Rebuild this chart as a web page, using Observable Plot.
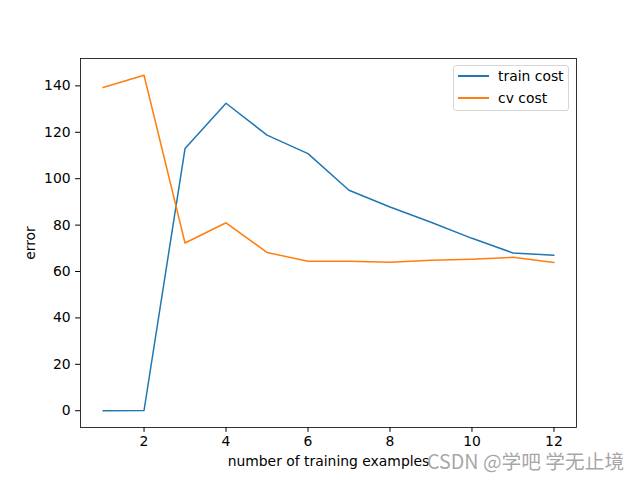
<!DOCTYPE html>
<html><head><meta charset="utf-8">
<script src="https://cdn.jsdelivr.net/npm/d3@7"></script>
<script src="https://cdn.jsdelivr.net/npm/@observablehq/plot@0.6"></script>
<style>
body{margin:0;background:#fff;}
#wrap{position:relative;width:640px;height:480px;font-family:"DejaVu Sans",sans-serif;}
#legend{position:absolute;left:453px;top:65px;width:116px;height:46px;border:1px solid #d6d6d6;border-radius:3px;background:rgba(255,255,255,0.8);font-size:13.9px;color:#000;box-sizing:border-box;}
.row{position:absolute;left:0;height:20px;line-height:20px;white-space:nowrap;}
.sw{position:absolute;left:3.5px;top:9px;width:31px;height:1.6px;}
.lab{position:absolute;left:44px;top:0;}
#wm{position:absolute;left:427px;top:452.5px;line-height:16px;height:16px;font-family:"Noto Sans CJK SC",sans-serif;font-size:19.7px;color:rgba(150,150,150,0.85);white-space:nowrap;}
</style></head><body><div id="wrap"></div>
<script>
const examples = [1,2,3,4,5,6,7,8,9,10,11,12];
const trainCost = [0.0,0.1,113.0,132.5,118.8,110.8,95.0,87.8,81.2,74.3,68.0,67.0];
const cvCost = [139.3,144.6,72.3,81.0,68.2,64.4,64.4,64.0,64.8,65.3,66.1,63.9];
const seriesNames = ["train cost","cv cost"];
const seriesColors = ["#1f77b4","#ff7f0e"];
const xTicks = [2,4,6,8,10,12];
const yTicks = [0,20,40,60,80,100,120,140];
const xLabel = "number of training examples";
const yLabel = "error";
const watermark = "CSDN @学吧 学无止境";

const data = examples.flatMap((n,i)=>[
  {n, err: trainCost[i], series: seriesNames[0]},
  {n, err: cvCost[i], series: seriesNames[1]}
]);

const chart = Plot.plot({
  width:640, height:480,
  marginLeft:80, marginRight:64, marginTop:58, marginBottom:53,
  style:{fontFamily:"DejaVu Sans", fontSize:"13.9px", color:"#000", background:"#fff", overflow:"visible"},
  x:{domain:[0.45,12.55], ticks:xTicks, tickSize:4.9, tickPadding:4, label:xLabel, labelAnchor:"center", labelOffset:38, labelArrow:"none"},
  y:{domain:[-7.23,151.8], ticks:yTicks, tickSize:4.9, tickPadding:5, label:yLabel, labelAnchor:"center", labelOffset:55, labelArrow:"none"},
  color:{domain:seriesNames, range:seriesColors},
  marks:[
    Plot.line(data,{x:"n", y:"err", stroke:"series", strokeWidth:1.5}),
    Plot.frame({stroke:"#000", strokeWidth:0.8})
  ]
});
const wrap = document.getElementById("wrap");
wrap.appendChild(chart);

const legend = document.createElement("div");
legend.id = "legend";
seriesNames.forEach((s,i)=>{
  const row = document.createElement("div");
  row.className = "row";
  row.style.top = (0 + i*22) + "px";
  row.innerHTML = `<div class="sw" style="background:${seriesColors[i]}"></div><span class="lab">${s}</span>`;
  legend.appendChild(row);
});
wrap.appendChild(legend);

const wm = document.createElement("div");
wm.id = "wm";
wm.textContent = watermark;
wrap.appendChild(wm);
</script>
</body></html>
